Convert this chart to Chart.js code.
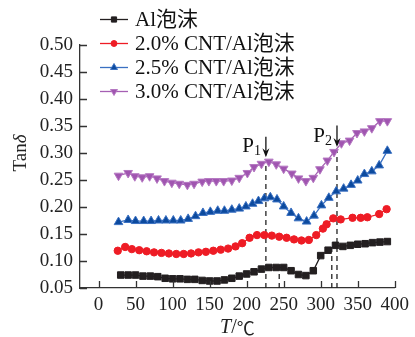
<!DOCTYPE html>
<html>
<head>
<meta charset="utf-8">
<script src="https://cdn.jsdelivr.net/npm/chart.js@4.4.1/dist/chart.umd.min.js"></script>
<style>
  html, body { margin: 0; padding: 0; background: #fff; }
  #wrap { width: 415px; height: 337px; }
</style>
</head>
<body>
<div id="wrap"><canvas id="chart" width="415" height="337"></canvas></div>
<script>
'use strict';

// Al foam, plain
const alT   = [30,40,50,60,70,80,90,100,110,120,130,140,150,160,170,180,190,200,210,220,230,240,250,260,270,280,290,300,310,320,330,340,350,360,370,380,390];
const alTan = [0.074,0.074,0.074,0.072,0.072,0.071,0.068,0.067,0.067,0.066,0.066,0.064,0.063,0.063,0.065,0.068,0.072,0.076,0.080,0.085,0.088,0.088,0.088,0.082,0.075,0.073,0.082,0.110,0.120,0.129,0.127,0.129,0.131,0.132,0.134,0.135,0.136];

// 2.0% CNT
const cnt20T   = [26,36,45,55,65,75,85,95,105,115,125,135,145,155,165,175,185,194,204,214,224,234,244,254,264,274,284,294,303,308,317,327,343,354,363,379,389];
const cnt20Tan = [0.119,0.126,0.122,0.120,0.118,0.116,0.115,0.114,0.113,0.113,0.114,0.116,0.117,0.119,0.121,0.123,0.127,0.133,0.143,0.148,0.148,0.147,0.145,0.143,0.140,0.138,0.139,0.148,0.160,0.168,0.179,0.177,0.180,0.180,0.181,0.187,0.196];

// 2.5% CNT
const cnt25T   = [27,40,50,61,71,81,91,101,111,121,131,141,151,161,170,180,190,199,208,216,224,232,241,250,260,270,281,291,301,311,321,331,341,350,359,369,379,390];
const cnt25Tan = [0.172,0.176,0.174,0.174,0.174,0.175,0.175,0.175,0.175,0.178,0.183,0.189,0.191,0.193,0.193,0.195,0.197,0.201,0.206,0.211,0.216,0.218,0.214,0.201,0.189,0.179,0.173,0.184,0.203,0.217,0.229,0.234,0.241,0.249,0.261,0.266,0.277,0.304];

// 3.0% CNT
const cnt30T   = [27,40,49,59,69,79,89,99,109,120,129,140,149,159,169,180,190,201,210,220,230,240,250,261,270,280,290,299,309,318,328,339,349,359,369,380,390];
const cnt30Tan = [0.258,0.263,0.257,0.255,0.257,0.253,0.248,0.245,0.243,0.241,0.243,0.247,0.248,0.248,0.248,0.249,0.254,0.263,0.274,0.280,0.284,0.279,0.271,0.262,0.253,0.248,0.254,0.270,0.286,0.302,0.318,0.323,0.337,0.340,0.346,0.359,0.359];

const seriesNames = ['Al泡沫', '2.0% CNT/Al泡沫', '2.5% CNT/Al泡沫', '3.0% CNT/Al泡沫'];

// dashed drop lines (temperature, upper end)
const guideT   = [226, 322, 244, 315];
const guideTop = [0.283, 0.305, 0.085, 0.122];

// peak arrows
const peakNames = ['1', '2'];
const peakT     = [226, 322];
const arrowFrom = [0.330, 0.351];
const arrowTo   = [0.292, 0.311];

const xTicks = [0, 50, 100, 150, 200, 250, 300, 350, 400];
const yTicks = [0.05, 0.10, 0.15, 0.20, 0.25, 0.30, 0.35, 0.40, 0.45, 0.50];

const SERIF = '"Liberation Serif", "DejaVu Serif", serif';
const CJK = '"Noto Sans CJK SC", sans-serif';
const AXIS = '#333';

function pts(xs, ys) {
  return xs.map((x, i) => ({ x, y: ys[i] }));
}

function series(label, xs, ys, line, fill, edge, style, r, rot) {
  return {
    label,
    data: pts(xs, ys),
    borderColor: line,
    borderWidth: 1.3,
    pointStyle: style,
    pointRadius: r,
    pointRotation: rot || 0,
    pointBackgroundColor: fill,
    pointBorderColor: edge,
    pointBorderWidth: 1,
    tension: 0
  };
}

const datasets = [
  series(seriesNames[0], alT, alTan, '#231f20', '#231f20', '#231f20', 'rect', 4.6),
  series(seriesNames[1], cnt20T, cnt20Tan, '#ee1c25', '#ee1c25', '#ee1c25', 'circle', 3.7),
  series(seriesNames[2], cnt25T, cnt25Tan, '#3a70c2', '#0c4a9e', '#3a70c2', 'triangle', 5),
  series(seriesNames[3], cnt30T, cnt30Tan, '#a55fb3', '#a055b0', '#b578c2', 'triangle', 5, 180)
];

guideT.forEach((t, i) => {
  datasets.push({
    label: 'guide',
    data: [{ x: t, y: 0.05 }, { x: t, y: guideTop[i] }],
    borderColor: '#222',
    borderWidth: 1.3,
    borderDash: [5, 4],
    pointRadius: 0
  });
});

// mixed-style text helper: parts = [[text, font, dy], ...]
function drawParts(ctx, parts, x, y, align) {
  let w = 0;
  parts.forEach(([t, f]) => { ctx.font = f; w += ctx.measureText(t).width; });
  let cx = align === 'center' ? x - w / 2 : (align === 'right' ? x - w : x);
  ctx.textAlign = 'left';
  parts.forEach(([t, f, dy]) => {
    ctx.font = f;
    ctx.fillText(t, cx, y + (dy || 0));
    cx += ctx.measureText(t).width;
  });
}

const decorations = {
  id: 'decorations',
  afterDraw(chart) {
    const ctx = chart.ctx;
    const xs = chart.scales.x, ys = chart.scales.y;
    const area = chart.chartArea;
    ctx.save();

    // inward ticks
    ctx.strokeStyle = AXIS;
    ctx.lineWidth = 1.3;
    ctx.beginPath();
    xTicks.forEach((v) => {
      const px = Math.round(xs.getPixelForValue(v)) + 0.5;
      ctx.moveTo(px, area.bottom);
      ctx.lineTo(px, area.bottom - 7);
    });
    yTicks.forEach((v) => {
      const py = Math.round(ys.getPixelForValue(v)) + 0.5;
      ctx.moveTo(area.left, py);
      ctx.lineTo(area.left + 7, py);
    });
    ctx.stroke();

    // peak arrows and labels
    ctx.strokeStyle = '#111';
    ctx.fillStyle = '#111';
    peakT.forEach((t, i) => {
      const px = xs.getPixelForValue(t);
      const y0 = ys.getPixelForValue(arrowFrom[i]);
      const y1 = ys.getPixelForValue(arrowTo[i]);
      ctx.lineWidth = 1.3;
      ctx.beginPath();
      ctx.moveTo(px, y0);
      ctx.lineTo(px, y1 - 2);
      ctx.stroke();
      ctx.beginPath();
      ctx.moveTo(px, y1);
      ctx.lineTo(px - 3.5, y1 - 9);
      ctx.lineTo(px, y1 - 6);
      ctx.lineTo(px + 3.5, y1 - 9);
      ctx.closePath();
      ctx.fill();
      ctx.textBaseline = 'alphabetic';
      drawParts(ctx, [['P', '21px ' + SERIF], [peakNames[i], '14px ' + SERIF, 3]], px - 5, y1 - 5, 'right');
    });

    // legend
    const rows = [19.5, 43.5, 67.5, 91.5];
    chart.data.datasets.slice(0, 4).forEach((ds, i) => {
      const y = rows[i];
      ctx.strokeStyle = ds.borderColor;
      ctx.lineWidth = 1.3;
      ctx.beginPath();
      ctx.moveTo(100, y);
      ctx.lineTo(128, y);
      ctx.stroke();
      ctx.fillStyle = ds.pointBackgroundColor;
      ctx.strokeStyle = ds.pointBorderColor;
      ctx.lineWidth = 1;
      Chart.helpers.drawPoint(ctx, {
        pointStyle: ds.pointStyle,
        radius: ds.pointRadius * 0.8,
        rotation: ds.pointRotation,
        borderWidth: 1
      }, 114, y);
      ctx.fillStyle = '#111';
      ctx.textBaseline = 'middle';
      ctx.font = '21px ' + SERIF + ', ' + CJK;
      ctx.textAlign = 'left';
      ctx.fillText(ds.label, 135, y + 1);
    });

    // axis titles
    ctx.fillStyle = '#222';
    ctx.textBaseline = 'middle';
    drawParts(ctx, [['T', 'italic 20px ' + SERIF], ['/', '20px ' + SERIF], ['℃', '18px ' + CJK]], (area.left + area.right) / 2, 328, 'center');
    ctx.translate(21, 153);
    ctx.rotate(-Math.PI / 2);
    drawParts(ctx, [['Tan', '19px ' + SERIF], ['δ', 'italic 19px ' + SERIF]], 0, 0, 'center');

    ctx.restore();
  }
};

new Chart(document.getElementById('chart'), {
  type: 'line',
  data: { datasets },
  options: {
    responsive: false,
    animation: false,
    devicePixelRatio: 1,
    layout: { padding: { left: 0, right: 17, top: 45, bottom: 0 } },
    plugins: { legend: { display: false }, tooltip: { enabled: false } },
    scales: {
      x: {
        type: 'linear',
        min: -25,
        max: 400,
        afterBuildTicks: (s) => { s.ticks = xTicks.map((v) => ({ value: v })); },
        afterFit: (s) => { s.height = 49; },
        grid: { display: false, drawTicks: false },
        border: { color: AXIS, width: 1.3 },
        ticks: { color: '#222', padding: 6, font: { family: SERIF, size: 19 }, maxRotation: 0 }
      },
      y: {
        min: 0.05,
        max: 0.50,
        afterBuildTicks: (s) => { s.ticks = yTicks.map((v) => ({ value: v })); },
        afterFit: (s) => { s.width = 80; },
        grid: { display: false, drawTicks: false },
        border: { color: AXIS, width: 1.3 },
        ticks: { color: '#222', padding: 7, font: { family: SERIF, size: 19 }, callback: (v) => v.toFixed(2) }
      }
    }
  },
  plugins: [decorations]
});
</script>
</body>
</html>
